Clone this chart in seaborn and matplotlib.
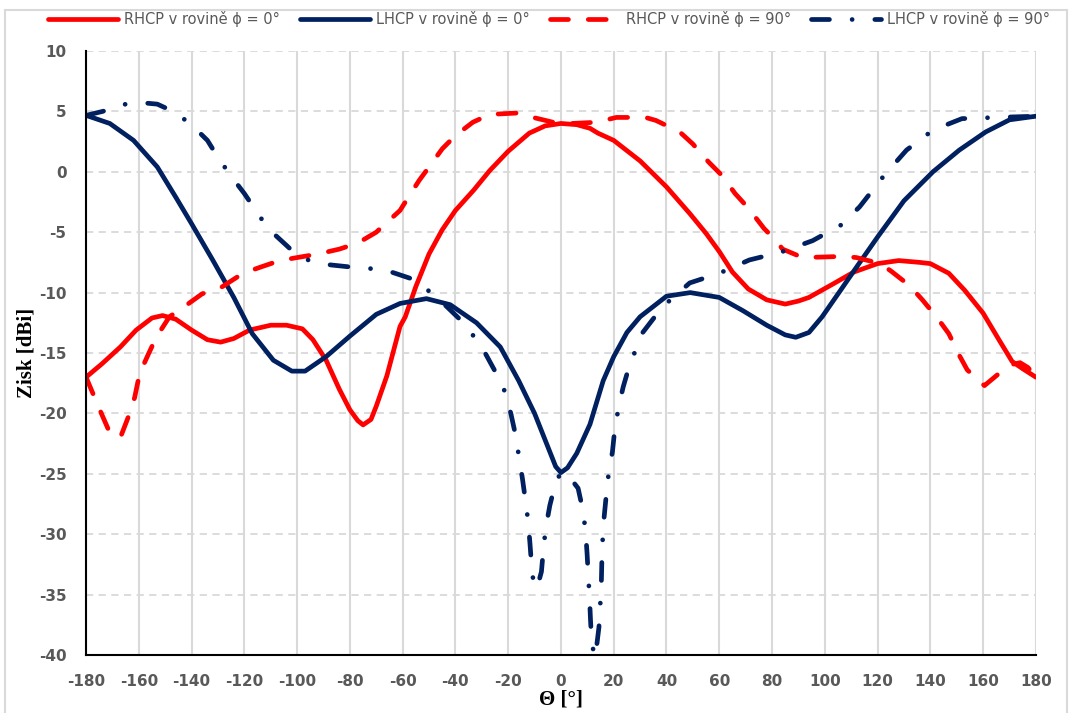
import matplotlib
matplotlib.use("Agg")
import matplotlib.pyplot as plt
from matplotlib.patches import Rectangle
import pandas as pd
import seaborn as sns

sns.set_theme(style="white")
plt.rcParams["font.family"] = ["DejaVu Sans"]
plt.rcParams["axes.unicode_minus"] = False

series_names = [
    "RHCP v rovině ϕ = 0°",
    "LHCP v rovině ϕ = 0°",
    "RHCP v rovině ϕ = 90°",
    "LHCP v rovině ϕ = 90°",
]

theta_rhcp0 = [-180, -174, -167, -161, -155, -151, -146, -140, -134, -129, -124, -118, -110,
               -104, -98, -94, -89, -84, -80, -77, -75, -72, -70, -66, -61, -59, -55, -50, -45,
               -40, -33, -27, -20, -12, -6, 0, 6, 11, 14, 20, 30, 40, 49, 55, 60, 65, 71, 78,
               85, 90, 94, 103, 111, 120, 128, 136, 140, 147, 153, 160, 166, 171, 175, 180]
gain_rhcp0 = [-17.0, -15.9, -14.5, -13.1, -12.1, -11.9, -12.2, -13.1, -13.9, -14.1, -13.8,
              -13.1, -12.7, -12.7, -13.0, -13.9, -15.6, -18.0, -19.7, -20.6, -20.95, -20.5,
              -19.4, -16.9, -12.8, -12.0, -9.5, -6.8, -4.8, -3.2, -1.5, 0.1, 1.7, 3.2, 3.8, 4.0,
              3.9, 3.6, 3.2, 2.6, 0.9, -1.25, -3.5, -5.1, -6.6, -8.3, -9.7, -10.6, -10.95,
              -10.7, -10.4, -9.3, -8.3, -7.6, -7.35, -7.5, -7.6, -8.4, -9.8, -11.7, -13.9,
              -15.7, -16.3, -17.0]

theta_lhcp0 = [-180, -171, -162, -153, -146, -140, -132, -124, -117, -109, -102, -97, -89, -80,
               -70, -61, -51, -42, -32, -23, -16, -10, -6, -2, 0, 2.5, 6, 11, 16, 20, 25, 30, 40,
               49, 60, 69, 78, 85, 89, 94, 99, 106, 112, 120, 130, 141, 151, 161, 170, 180]
gain_lhcp0 = [4.67, 4.0, 2.6, 0.4, -2.1, -4.3, -7.3, -10.4, -13.4, -15.6, -16.5, -16.5, -15.3,
              -13.6, -11.8, -10.9, -10.5, -11.0, -12.5, -14.5, -17.3, -20.0, -22.2, -24.4,
              -24.9, -24.5, -23.3, -20.9, -17.3, -15.3, -13.3, -12.0, -10.3, -10.0, -10.4,
              -11.5, -12.7, -13.5, -13.7, -13.3, -12.0, -9.8, -7.9, -5.4, -2.4, 0.0, 1.8, 3.3,
              4.3, 4.6]

theta_rhcp90 = [-180, -177.5, -174, -171, -167, -164, -161.6, -159.7, -156.6, -153.4, -148.4,
                -143, -136, -129, -120.5, -114, -106.6, -100, -92, -84, -77, -70, -65, -61,
                -58.7, -53.7, -50, -45, -40, -33.4, -27, -17, -10.6, -3, 4, 13.4, 21, 32, 36,
                45, 50, 56, 61, 66, 71, 77, 81.5, 84, 91.6, 100, 107, 112, 121, 125, 132, 137,
                143, 147, 151, 154, 160.5, 166, 170, 174, 177, 180]
gain_rhcp90 = [-17.0, -18.3, -20.1, -21.6, -22.0, -20.3, -18.7, -16.7, -15.2, -13.7, -12.0,
               -11.2, -10.1, -9.6, -8.4, -7.9, -7.35, -7.1, -6.8, -6.4, -5.9, -5.0, -4.0, -3.2,
               -2.4, -0.7, 0.4, 1.9, 3.0, 4.1, 4.75, 4.86, 4.5, 4.1, 4.0, 4.1, 4.5, 4.5, 4.25,
               3.3, 2.3, 0.8, -0.3, -1.8, -3.0, -4.7, -5.7, -6.4, -7.1, -7.05, -7.0, -7.1, -7.6,
               -8.2, -9.4, -10.6, -12.2, -13.4, -15.2, -16.4, -17.7, -16.7, -16.0, -15.8,
               -16.2, -17.0]

theta_lhcp90 = [-180, -173.7, -165, -158, -153, -149, -141, -134, -130.6, -125.6, -120, -116,
                -111, -104, -99.6, -92, -79, -67, -56, -51, -45, -36, -29, -22, -19, -17, -16,
                -14.6, -13.4, -12.4, -11.7, -11.1, -10.2, -9, -7.4, -6.6, -5.7, -4.2, -2, 0, 3,
                6.5, 8.3, 9.3, 9.9, 10.4, 10.8, 11.2, 11.7, 13.0, 14.4, 14.9, 15.3, 15.5, 16.0,
                17.2, 18.2, 19.5, 20.4, 22, 23.6, 26, 31, 38.4, 48.8, 60, 71.4, 83.4, 95.4,
                106.2, 113.2, 122.5, 131, 141, 152, 165, 180]
gain_lhcp90 = [4.67, 5.0, 5.6, 5.7, 5.6, 5.2, 4.1, 2.6, 1.4, -0.2, -1.8, -3.1, -4.7, -6.1, -7.0,
               -7.6, -7.9, -8.1, -8.9, -9.7, -10.8, -12.7, -14.9, -17.7, -20.0, -22.0, -23.5,
               -25.4, -27.3, -29.0, -30.9, -32.7, -34.4, -34.4, -33.1, -31.1, -29.4, -27.6,
               -25.7, -24.9, -25.2, -26.2, -28.0, -29.7, -31.6, -33.6, -35.1, -37.1, -39.1,
               -40.2, -37.7, -35.8, -34.1, -32.2, -29.4, -26.7, -24.7, -23.2, -21.3, -19.3,
               -17.8, -16.0, -13.3, -11.2, -9.2, -8.4, -7.3, -6.65, -5.7, -4.4, -2.9, -0.3,
               1.8, 3.45, 4.4, 4.5, 4.6]

x_ticks = list(range(-180, 181, 20))
y_ticks = list(range(-40, 11, 5))

frames = []
for name, th, g in zip(series_names,
                       [theta_rhcp0, theta_lhcp0, theta_rhcp90, theta_lhcp90],
                       [gain_rhcp0, gain_lhcp0, gain_rhcp90, gain_lhcp90]):
    frames.append(pd.DataFrame({"theta": th, "gain": g, "series": name}))
data = pd.concat(frames, ignore_index=True)

red = "#FF0000"
navy = "#002060"
palette = dict(zip(series_names, [red, navy, red, navy]))
dashes = dict(zip(series_names, ["", "", (3.8, 4.2), (3.8, 4.8, 0.01, 4.8)]))

fig = plt.figure(figsize=(10.69, 7.13), dpi=100)
ax = fig.add_axes([0.0805, 0.0813, 0.8885, 0.8472])

sns.lineplot(data=data, x="theta", y="gain", hue="series", style="series",
             palette=palette, dashes=dashes, sort=False, estimator=None,
             linewidth=3.4, ax=ax, legend=True)

for line in ax.lines:
    line.set_dash_capstyle("round")
    line.set_solid_capstyle("round")
    line.set_solid_joinstyle("round")
    line.set_dash_joinstyle("round")

ax.set_xlim(-180, 180)
ax.set_ylim(-40, 10)
ax.set_xticks(x_ticks)
ax.set_yticks(y_ticks)
ax.tick_params(length=0, pad=14, labelsize=11, labelcolor="#595959")
for lab in ax.get_xticklabels() + ax.get_yticklabels():
    lab.set_fontweight("bold")
    lab.set_family(["Liberation Sans Narrow", "DejaVu Sans"])

ax.xaxis.grid(True, color="#d9d9d9", linestyle="-", linewidth=1.5)
ax.yaxis.grid(True, color="#d9d9d9", linestyle=(0, (4, 3)), linewidth=1.3)
ax.set_axisbelow(True)
for side in ["top", "right"]:
    ax.spines[side].set_visible(False)
for side in ["left", "bottom"]:
    ax.spines[side].set_color("black")
    ax.spines[side].set_linewidth(1.5)

ax.set_xlabel("Θ [°]", family="Liberation Serif", fontweight="bold", fontsize=15,
              color="black", labelpad=0)
ax.set_ylabel("Zisk [dBi]", family="Liberation Serif", fontweight="bold", fontsize=15,
              color="black")
ax.yaxis.set_label_coords(-0.052, 0.5)

handles, labels = ax.get_legend_handles_labels()
ax.get_legend().remove()
for h in handles:
    h.set_dash_capstyle("round")
    h.set_solid_capstyle("round")
fig.legend(handles, labels, loc="center", bbox_to_anchor=(0.5135, 0.973), ncol=4,
           frameon=False, handlelength=4.8, columnspacing=1.37, handletextpad=0.41,
           prop={"size": 10.5}, labelcolor="#595959")

fig.patches.append(Rectangle((0.0047, -0.01), 0.9935, 0.996, transform=fig.transFigure,
                             fill=False, edgecolor="#d9d9d9", linewidth=1.5))

fig.savefig("out.png", dpi=100)
